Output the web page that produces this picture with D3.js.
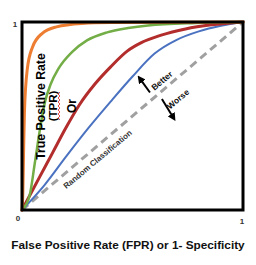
<!DOCTYPE html>
<html>
<head>
<meta charset="utf-8">
<script src="https://cdn.jsdelivr.net/npm/d3@7"></script>
<style>
  body { margin: 0; background: #fff; }
  svg { display: block; font-family: "Liberation Sans", Arial, sans-serif; }
</style>
</head>
<body>
<div id="chart"></div>
<script>
// ROC curves as [FPR, TPR]
const orangeCurve = [[0,0],[0.004,0.1],[0.007,0.3],[0.011,0.52],[0.024,0.75],[0.047,0.865],[0.092,0.94],[0.156,0.974],[0.27,0.992],[0.4,0.997],[1,1]];
const greenCurve = [[0,0],[0.035,0.08],[0.058,0.25],[0.08,0.42],[0.104,0.575],[0.13,0.67],[0.165,0.752],[0.226,0.84],[0.294,0.902],[0.385,0.945],[0.48,0.968],[0.57,0.982],[0.785,0.995],[1,1]];
const redCurve = [[0,0],[0.08,0.176],[0.14,0.308],[0.2,0.44],[0.26,0.56],[0.33,0.67],[0.4,0.76],[0.476,0.845],[0.54,0.89],[0.63,0.93],[0.74,0.963],[0.858,0.985],[1,1]];
const blueCurve = [[0,0],[0.1,0.13],[0.2,0.285],[0.3,0.435],[0.4,0.575],[0.5,0.71],[0.6,0.832],[0.7,0.905],[0.8,0.95],[0.9,0.98],[1,1]];
const randomLine = [[0,0],[1,1]];

const curveColors = ["#ed7d31", "#73ad45", "#b22d2b", "#4a72c0"];
const tickLabels = ["0", "1"];
const xTitle = "False Positive Rate (FPR) or 1- Specificity";
const yTitleLines = ["True Positive Rate", "(TPR)", "Or"];

const width = 256, height = 265;

const svg = d3.select("#chart").append("svg")
    .attr("width", width)
    .attr("height", height);

const x = d3.scaleLinear().domain([0, 1]).range([22, 243]);
const y = d3.scaleLinear().domain([0, 1]).range([210, 22]);

const line = d3.line()
    .x(d => x(d[0]))
    .y(d => y(d[1]))
    .curve(d3.curveMonotoneX);

// arrow head
svg.append("defs").append("marker")
    .attr("id", "head")
    .attr("viewBox", "0 0 10 10")
    .attr("refX", 4).attr("refY", 5)
    .attr("markerWidth", 4).attr("markerHeight", 4)
    .attr("orient", "auto")
    .append("path")
    .attr("d", "M0,0 L10,5 L0,10 Z")
    .attr("fill", "#000");

// dashed random line
svg.append("path")
    .datum(randomLine)
    .attr("d", d3.line().x(d => x(d[0])).y(d => y(d[1])))
    .attr("fill", "none")
    .attr("stroke", "#a0a0a0")
    .attr("stroke-width", 3)
    .attr("stroke-dasharray", "8,5");

const curves = [blueCurve, redCurve, greenCurve, orangeCurve];
const widths = [2, 3, 2.5, 3];
curves.forEach((c, i) => {
    svg.append("path")
        .datum(c)
        .attr("d", line)
        .attr("fill", "none")
        .attr("stroke", curveColors[3 - i])
        .attr("stroke-width", widths[i])
        .attr("stroke-linecap", "round");
});

// frame
svg.append("rect")
    .attr("x", x(0)).attr("y", y(1))
    .attr("width", x(1) - x(0)).attr("height", y(0) - y(1))
    .attr("fill", "none")
    .attr("stroke", "#000")
    .attr("stroke-width", 3);

// tick labels
svg.append("text").attr("x", x(0) - 7).attr("y", y(1) + 5)
    .attr("text-anchor", "middle").attr("font-size", 8).attr("font-weight", "bold")
    .attr("fill", "#333").text(tickLabels[1]);
svg.append("text").attr("x", x(0) - 4).attr("y", y(0) + 11)
    .attr("text-anchor", "middle").attr("font-size", 8).attr("font-weight", "bold")
    .attr("fill", "#333").text(tickLabels[0]);
svg.append("text").attr("x", x(1) - 1).attr("y", y(0) + 14)
    .attr("text-anchor", "middle").attr("font-size", 8).attr("font-weight", "bold")
    .attr("fill", "#333").text(tickLabels[1]);

// x title
svg.append("text")
    .attr("x", 128).attr("y", 249)
    .attr("text-anchor", "middle")
    .attr("font-size", 11.8).attr("font-weight", "bold")
    .attr("fill", "#111")
    .text(xTitle);

// y title, three rotated lines
const yTitlePos = [[45, 106.5, 12.3], [57, 106, 11.5], [75.5, 106, 12]];
yTitleLines.forEach((t, i) => {
    const p = yTitlePos[i];
    svg.append("text")
        .attr("transform", `translate(${p[0]},${p[1]}) rotate(-90)`)
        .attr("text-anchor", "middle")
        .attr("font-size", p[2]).attr("font-weight", "bold")
        .attr("fill", "#000")
        .text(t);
});

// spell-check squiggle under (TPR)
const squiggle = d3.range(0, 15).map(i => [i % 2 ? 58 : 60, 92 + i * 2]);
svg.append("path")
    .attr("d", d3.line()(squiggle))
    .attr("fill", "none")
    .attr("stroke", "#e02020")
    .attr("stroke-width", 0.8);

// Better / Worse annotations [tailX, tailY, tipX, tipY] in data units
const arrows = [[0.579, 0.625, 0.536, 0.695], [0.633, 0.59, 0.683, 0.495]];
arrows.forEach(a => {
    svg.append("line")
        .attr("x1", x(a[0])).attr("y1", y(a[1]))
        .attr("x2", x(a[2])).attr("y2", y(a[3]))
        .attr("stroke", "#000")
        .attr("stroke-width", 2)
        .attr("marker-end", "url(#head)");
});

const notes = [
    { text: "Better", at: [0.633, 0.688], size: 8.5, color: "#111" },
    { text: "Worse", at: [0.706, 0.59], size: 8.5, color: "#111" },
    { text: "Random Classification", at: [0.342, 0.27], size: 8, color: "#333" }
];
notes.forEach(n => {
    svg.append("text")
        .attr("transform", `translate(${x(n.at[0])},${y(n.at[1])}) rotate(-40)`)
        .attr("text-anchor", "middle")
        .attr("dy", "0.35em")
        .attr("font-size", n.size).attr("font-weight", "bold")
        .attr("fill", n.color)
        .text(n.text);
});
</script>
</body>
</html>
